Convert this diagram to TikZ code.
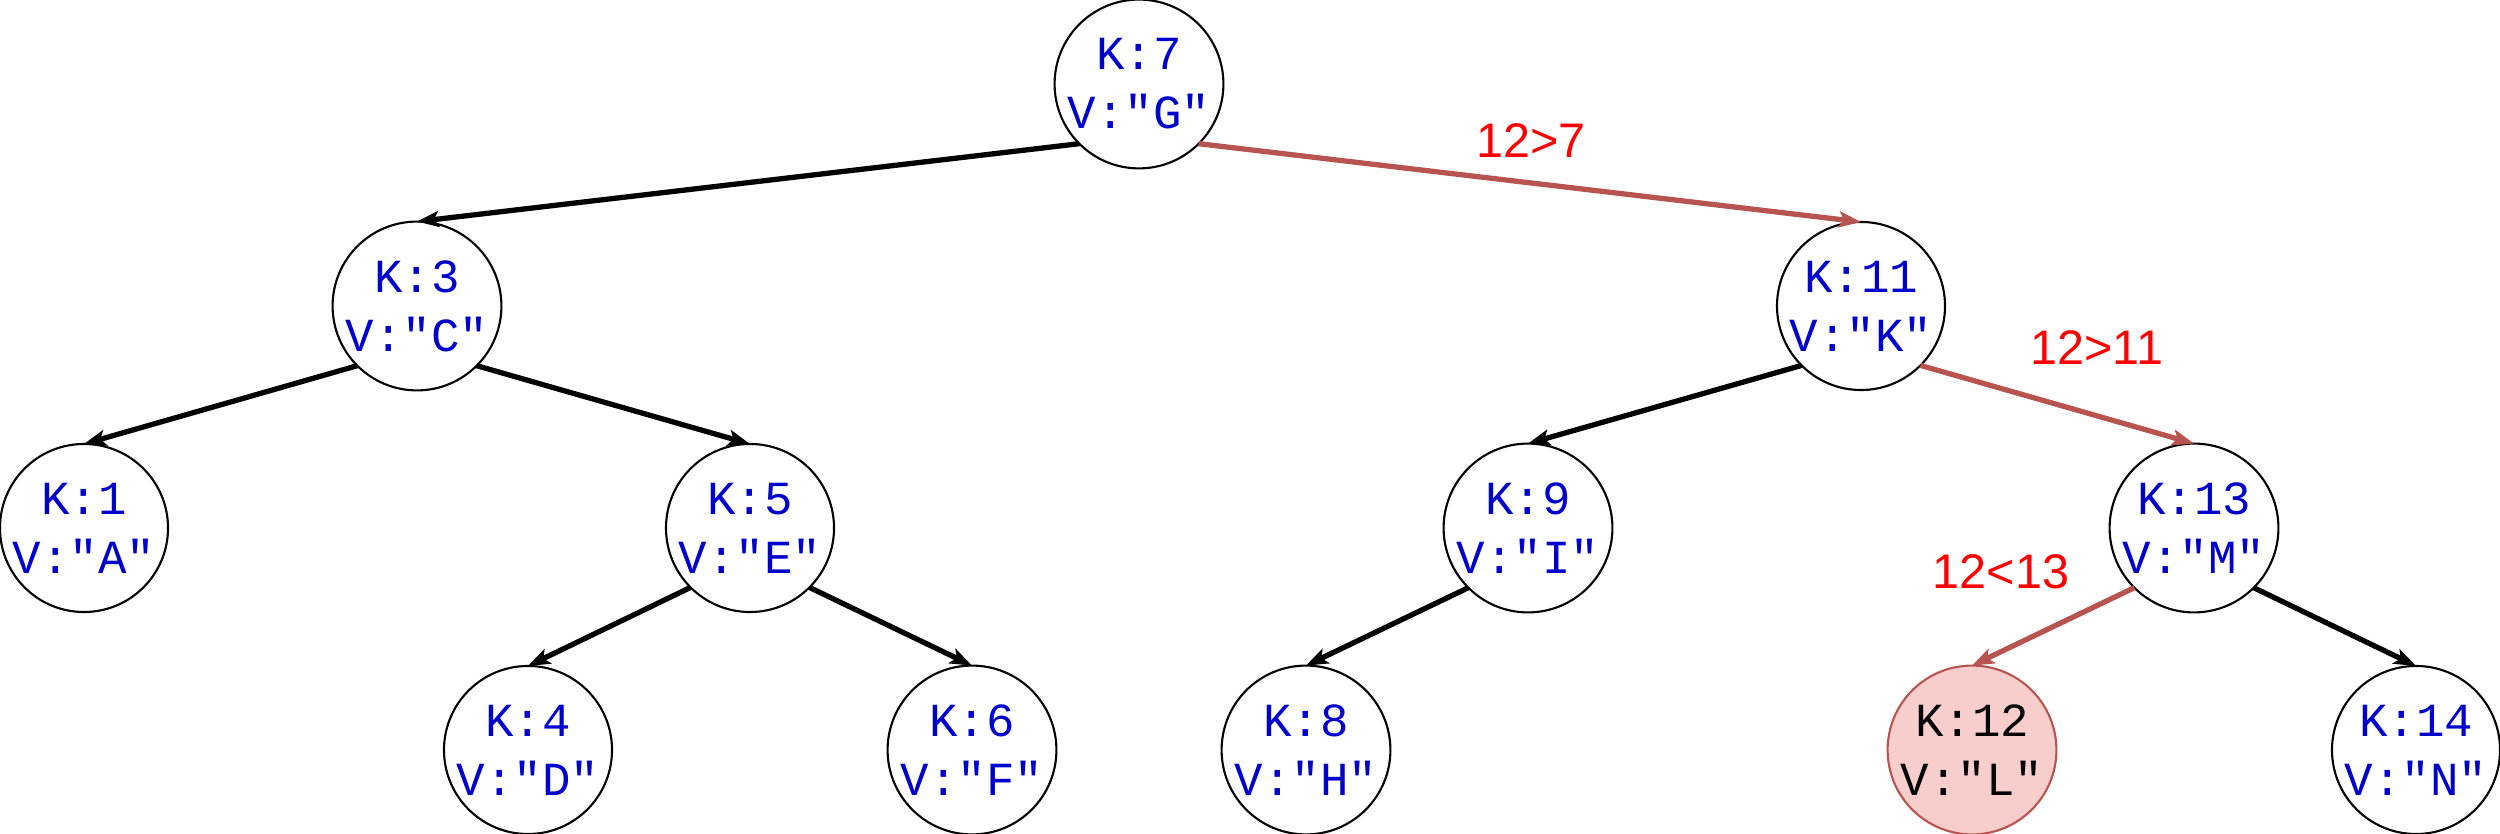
\documentclass[tikz,border=0pt]{standalone}
\usepackage{fontspec}
\newfontfamily\monofont{Liberation Mono}
\newfontfamily\labelfont{Liberation Sans}
\usetikzlibrary{arrows.meta}
\definecolor{keyblue}{HTML}{0000CC}
\definecolor{pathred}{HTML}{B85450}
\definecolor{hitfill}{HTML}{F8CECC}
\definecolor{labred}{HTML}{FF0000}
\tikzset{
  bstnode/.style={circle, draw=black, line width=0.6pt, minimum size=1.67cm, inner sep=0pt, outer sep=0pt,
    align=center, font=\monofont\fontsize{13.5}{16.8}\selectfont, text=keyblue, fill=white},
  hitnode/.style={bstnode, fill=hitfill, draw=pathred, text=black},
  treeedge/.style={line width=1.5pt, draw=black, -{Stealth[length=0.22cm,width=0.16cm,inset=0.05cm]}},
  pathedge/.style={treeedge, draw=pathred},
  cmplabel/.style={font=\labelfont\fontsize{13.8}{16}\selectfont, text=labred, inner sep=0pt}
}
\begin{document}
\begin{tikzpicture}[x=0.01cm,y=-0.01cm]
\useasboundingbox (0,0) rectangle (2500,834);
% nodes
\node[bstnode] (n7)  at (1139,84)  {K:7\\V:"G"};
\node[bstnode] (n3)  at (417,306)  {K:3\\V:"C"};
\node[bstnode] (n11) at (1861,306) {K:11\\V:"K"};
\node[bstnode] (n1)  at (84,528)   {K:1\\V:"A"};
\node[bstnode] (n5)  at (750,528)  {K:5\\V:"E"};
\node[bstnode] (n9)  at (1528,528) {K:9\\V:"I"};
\node[bstnode] (n13) at (2194,528) {K:13\\V:"M"};
\node[bstnode] (n4)  at (528,750)  {K:4\\V:"D"};
\node[bstnode] (n6)  at (972,750)  {K:6\\V:"F"};
\node[bstnode] (n8)  at (1306,750) {K:8\\V:"H"};
\node[hitnode] (n12) at (1972,750) {K:12\\V:"L"};
\node[bstnode] (n14) at (2416,750) {K:14\\V:"N"};
% edges
\draw[treeedge] (n7.south west) -- (n3.north);
\draw[pathedge] (n7.south east) -- (n11.north);
\draw[treeedge] (n3.south west) -- (n1.north);
\draw[treeedge] (n3.south east) -- (n5.north);
\draw[treeedge] (n11.south west) -- (n9.north);
\draw[pathedge] (n11.south east) -- (n13.north);
\draw[treeedge] (n5.south west) -- (n4.north);
\draw[treeedge] (n5.south east) -- (n6.north);
\draw[treeedge] (n9.south west) -- (n8.north);
\draw[pathedge] (n13.south west) -- (n12.north);
\draw[treeedge] (n13.south east) -- (n14.north);
% comparison labels
\node[cmplabel] (c1) at (1531,141) {12>7};
\node[cmplabel] (c2) at (2097,348) {12>11};
\node[cmplabel] (c3) at (2001,572) {12<13};
\end{tikzpicture}
\end{document}
